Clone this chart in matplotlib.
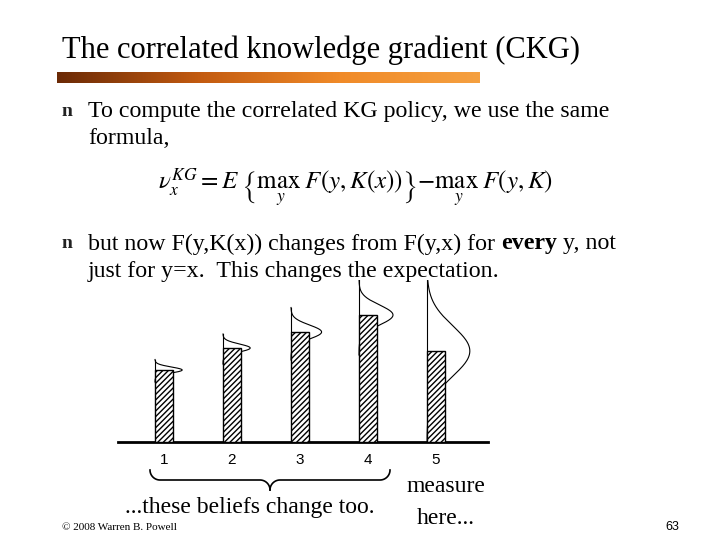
import numpy as np
import matplotlib
matplotlib.use("Agg")
import matplotlib.pyplot as plt
from matplotlib.colors import LinearSegmentedColormap

categories = ["1", "2", "3", "4", "5"]
belief_means = [72, 94, 110, 127, 91]
belief_spreads = [3, 4, 7, 10, 25]
curve_widths = [0.4, 0.4, 0.45, 0.5, 0.63]

plt.rcParams['mathtext.fontset'] = 'stix'
W, H = 720, 540
fig = plt.figure(figsize=(7.2, 5.4), dpi=100)
serif = "Liberation Serif"

def fx(px): return px / W
def fy(py): return 1 - py / H

fig.text(fx(62), fy(50), "The correlated knowledge gradient (CKG)", family=serif, fontsize=22, va="center")
gax = fig.add_axes([fx(57), fy(83), fx(480) - fx(57), (83 - 72) / H])
grad = np.linspace(0, 1, 256)[None, :]
cm = LinearSegmentedColormap.from_list("g", ["#6b2a06", "#c25a10", "#f08a28", "#f5a040"])
gax.imshow(grad, aspect="auto", cmap=cm)
gax.set_axis_off()

fs = 17.2
fig.text(fx(62), fy(112), "n", family=serif, fontsize=14, weight="bold", color="#222222", va="center")
fig.text(fx(88), fy(112), "To compute the correlated KG policy, we use the same", family=serif, fontsize=fs, va="center")
fig.text(fx(88), fy(139), "formula,", family=serif, fontsize=fs, va="center")
fig.text(fx(158), fy(188), r"$\nu_x^{KG} = E\;\left\{\max_{\;y}\; F(y,K(x))\right\} - \max_{\;y}\; F(y,K)$",
         fontsize=18, va="center")
fig.text(fx(62), fy(244), "n", family=serif, fontsize=14, weight="bold", color="#222222", va="center")

renderer = fig.canvas.get_renderer()
xpos = fx(88)
for part, wt in [("but now F(y,K(x)) changes from F(y,x) for ", "normal"), ("every", "bold"), (" y, not", "normal")]:
    t = fig.text(xpos, fy(244), part, family=serif, fontsize=fs, weight=wt, va="center")
    bb = t.get_window_extent(renderer)
    xpos = fig.transFigure.inverted().transform((bb.x1, bb.y0))[0]
fig.text(fx(88), fy(271), "just for y=x.  This changes the expectation.", family=serif, fontsize=fs, va="center")

ax = fig.add_axes([fx(118), fy(442), fx(488) - fx(118), (442 - 280) / H])
x = np.arange(1, len(categories) + 1)
bw = 0.265
ax.bar(x, belief_means, width=bw, facecolor="white", edgecolor="black", hatch="//////", linewidth=1, zorder=3)
for xi, m, s, a in zip(x, belief_means, belief_spreads, curve_widths):
    left = xi - bw / 2
    yy = np.linspace(m - 4 * s, m + 3.5 * s, 200)
    xx = left + a * np.exp(-(yy - m) ** 2 / (2 * s ** 2))
    ax.plot(xx, yy, color="black", lw=0.8, zorder=2)
    ax.plot([left, left], [m, m + 3.5 * s], color="black", lw=0.8, zorder=2)
ax.set_xlim(1 - 46 / 68, 5 + 52 / 68)
ax.set_ylim(0, 162)
for sp in ["top", "right", "left"]:
    ax.spines[sp].set_visible(False)
ax.spines["bottom"].set_linewidth(2)
ax.set_yticks([])
ax.set_xticks(x)
ax.set_xticklabels(categories, family="Liberation Sans", fontsize=11)
ax.tick_params(axis="x", length=0, pad=8)

bx0, bx1, by = 150, 390, 470
mid = (bx0 + bx1) / 2
r = 10
def arc(cx, cy, a0, a1):
    t = np.linspace(a0, a1, 30)
    return cx + r * np.cos(t), cy + r * np.sin(t)
pts_x, pts_y = [], []
for seg in [arc(bx0 + r, by, np.pi, np.pi / 2), ([bx0 + r, mid - r], [by + r, by + r]),
            arc(mid - r, by + 2 * r, -np.pi / 2, 0)]:
    pts_x += list(seg[0]); pts_y += list(seg[1])
lx, ly = np.array(pts_x), np.array(pts_y)
fig.add_artist(plt.Line2D(fx(lx), fy(ly), color="black", lw=1.2))
fig.add_artist(plt.Line2D(fx(2 * mid - lx), fy(ly), color="black", lw=1.2))

fig.text(fx(250), fy(507), "...these beliefs change too.", family=serif, fontsize=17, ha="center", va="center")
fig.text(fx(446), fy(487), "measure", family=serif, fontsize=17, ha="center", va="center")
fig.text(fx(446), fy(518), "here...", family=serif, fontsize=17, ha="center", va="center")
fig.text(fx(62), fy(527), "© 2008 Warren B. Powell", family=serif, fontsize=8, va="center")
fig.text(fx(672), fy(527), "63", family="Liberation Sans", fontsize=9, ha="center", va="center")

fig.savefig("out.png", dpi=100)
